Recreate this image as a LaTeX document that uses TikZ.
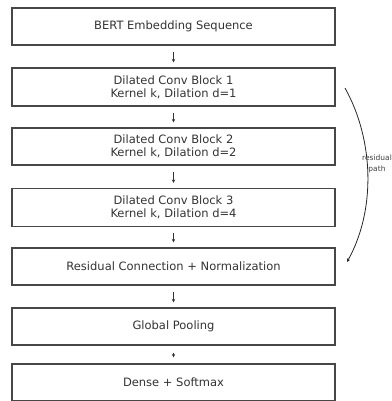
\documentclass[tikz,border=0pt]{standalone}
\usepackage{fontspec}
\setmainfont{DejaVu Sans}
\usetikzlibrary{arrows.meta}
\begin{document}
\begin{tikzpicture}[x=1pt,y=-1pt,
  blk/.style={draw=black!72, line width=1.1pt, minimum width=323pt, inner sep=0pt, align=center, font=\fontsize{11.5}{13}\selectfont, text=black!80},
  flow/.style={-{Stealth[length=3.5pt,width=3.5pt]}, line width=0.9pt, black!80, shorten <=6pt, shorten >=5pt}]
\useasboundingbox (0,0) rectangle (391,401);
\node[blk, minimum height=37pt] (b1) at (173.5,26.5) {BERT Embedding Sequence};
\node[blk, minimum height=38pt] (b2) at (173.5,87) {Dilated Conv Block 1\\Kernel k, Dilation d=1};
\node[blk, minimum height=37pt] (b3) at (173.5,146.5) {Dilated Conv Block 2\\Kernel k, Dilation d=2};
\node[blk, minimum height=38pt] (b4) at (173.5,207.5) {Dilated Conv Block 3\\Kernel k, Dilation d=4};
\node[blk, minimum height=37pt] (b5) at (173.5,266.5) {Residual Connection + Normalization};
\node[blk, minimum height=37pt] (b6) at (173.5,326.5) {Global Pooling};
\node[blk, minimum height=37pt] (b7) at (173.5,382.5) {Dense + Softmax};
\draw[flow] (b1) -- (b2);
\draw[flow] (b2) -- (b3);
\draw[flow] (b3) -- (b4);
\draw[flow] (b4) -- (b5);
\draw[flow] (b5) -- (b6);
\draw[flow, shorten <=7pt, shorten >=6pt] (b6) -- (b7);
\coordinate (rs) at (345,88);
\coordinate (re) at (347,262);
\draw[-{Stealth[length=3.5pt,width=3.5pt]}, line width=0.8pt, black!85] (rs) .. controls (374,140) and (376,210) .. (re);
\node[font=\fontsize{7.5}{11}\selectfont, text=black!75, align=center] (lbl) at (377,164) {residual\\path};
\end{tikzpicture}
\end{document}
